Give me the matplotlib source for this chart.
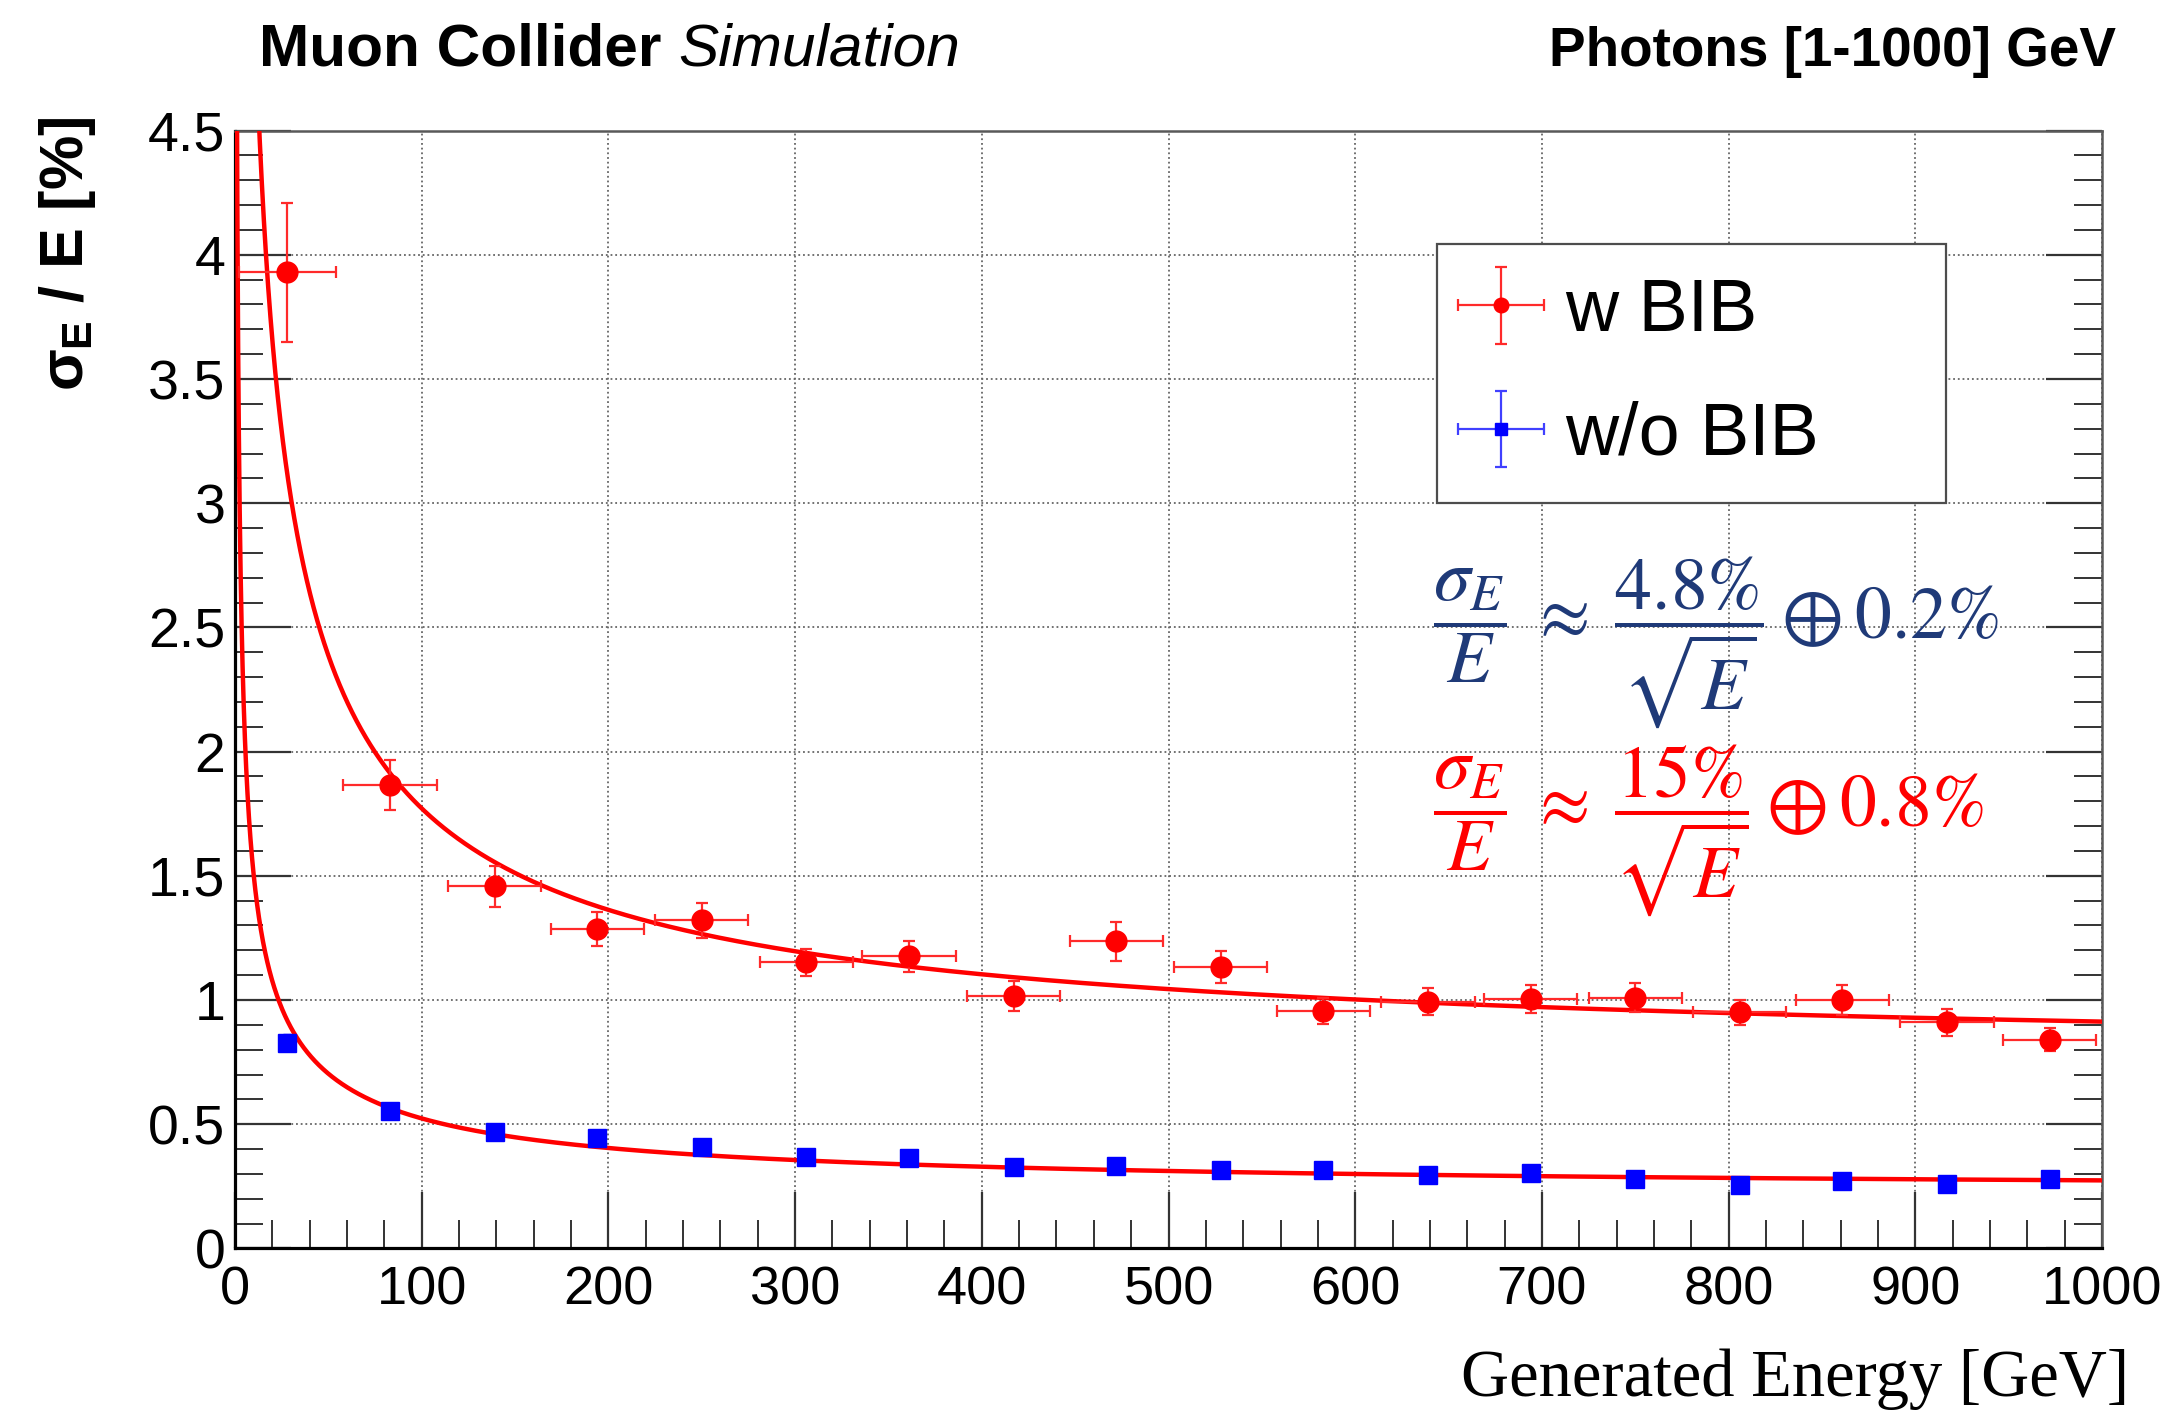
import numpy as np
import matplotlib
matplotlib.use("Agg")
import matplotlib.pyplot as plt
from matplotlib.ticker import MultipleLocator
from matplotlib.container import ErrorbarContainer
from matplotlib.legend_handler import HandlerErrorbar

# generated photon energy, bin centres [GeV]
energy = [28, 83, 139, 194, 250, 306, 361, 417, 472, 528, 583, 639, 694, 750, 806, 861, 917, 972]
energy_err = [26, 25, 25, 25, 25, 25, 25, 25, 25, 25, 25, 25, 25, 25, 25, 25, 25, 25]

# sigma_E / E [%] with BIB
res_bib = [3.93, 1.866, 1.457, 1.286, 1.321, 1.152, 1.176, 1.016, 1.236, 1.133,
           0.956, 0.993, 1.004, 1.009, 0.950, 1.000, 0.910, 0.840]
res_bib_err = [0.28, 0.10, 0.084, 0.07, 0.07, 0.055, 0.063, 0.06, 0.077, 0.063,
               0.051, 0.055, 0.055, 0.058, 0.052, 0.06, 0.055, 0.046]

# sigma_E / E [%] without BIB
res_nobib = [0.828, 0.555, 0.470, 0.444, 0.410, 0.368, 0.364, 0.328, 0.331, 0.314,
             0.314, 0.295, 0.305, 0.278, 0.255, 0.271, 0.260, 0.280]
res_nobib_err = [0.035, 0.02, 0.018, 0.017, 0.016, 0.015, 0.015, 0.014, 0.014, 0.013,
                 0.013, 0.012, 0.012, 0.012, 0.012, 0.011, 0.011, 0.011]

# fitted a/sqrt(E) (+) c parameters, fit range [GeV]
fit_bib = (16.0, 0.76)
fit_nobib = (4.7, 0.23)
fit_range = (1, 1000)

plt.rcParams['font.family'] = ['Liberation Sans', 'DejaVu Sans']
plt.rcParams['mathtext.fontset'] = 'custom'
plt.rcParams['mathtext.rm'] = 'Liberation Sans:bold'
plt.rcParams['mathtext.it'] = 'Liberation Sans:bold'
plt.rcParams['mathtext.bf'] = 'Liberation Sans:bold'

W, H = 2161, 1410
fig = plt.figure(figsize=(W / 100, H / 100), dpi=100)
ax = fig.add_axes([235 / W, 1 - 1248.4 / H, 1867 / W, 1117.8 / H])

# fit curves
e_fit = np.geomspace(fit_range[0], fit_range[1], 3000)
for a, c in (fit_bib, fit_nobib):
    ax.plot(e_fit, np.hypot(a / np.sqrt(e_fit), c), color='#ff0000', lw=3.2, zorder=3)

red = ax.errorbar(energy, res_bib, xerr=energy_err, yerr=res_bib_err, fmt='o',
                  color='#ff0000', ecolor='#ff2a2a', ms=15, elinewidth=1.6,
                  capsize=4, capthick=1.6, zorder=4, label='w BIB')
ax.errorbar(energy, res_nobib, yerr=res_nobib_err, fmt='s', color='#0000ff',
            ms=13, elinewidth=1.2, capsize=3, zorder=4)
# legend entry for the w/o BIB points
blue = ax.errorbar([np.nan], [np.nan], xerr=[1], yerr=[1], fmt='s', color='#0000ff',
                   ecolor='#4040ff', ms=13, elinewidth=1.6, capsize=4, capthick=1.6,
                   label='w/o BIB')

ax.set_xlim(0, 1000)
ax.set_ylim(0, 4.5)
ax.xaxis.set_major_locator(MultipleLocator(100))
ax.xaxis.set_minor_locator(MultipleLocator(20))
ax.yaxis.set_major_locator(MultipleLocator(0.5))
ax.yaxis.set_minor_locator(MultipleLocator(0.1))
ax.yaxis.set_major_formatter(plt.FuncFormatter(lambda v, p: f'{v:g}'))

ax.tick_params(which='both', direction='in', right=True, top=False, color='0.2')
ax.tick_params(which='major', length=40, width=1.6)
ax.tick_params(which='minor', length=20, width=1.4)
ax.tick_params(axis='x', pad=12, labelsize=39)
ax.tick_params(axis='y', pad=7, labelsize=40)

for s in ('left', 'bottom'):
    ax.spines[s].set_linewidth(2.3)
    ax.spines[s].set_color('black')
for s in ('top', 'right'):
    ax.spines[s].set_linewidth(1.8)
    ax.spines[s].set_color('0.35')

ax.grid(True, which='major', linestyle=(0, (1, 1.6)), color='0.4', linewidth=1.3)
ax.set_axisbelow(True)

leg = ax.legend(handles=[red, blue], loc='upper left',
                bbox_to_anchor=(0.6438, 0.6758, 0.2726, 0.2228), mode='expand',
                fontsize=53, handlelength=0.83, handletextpad=0.465, borderpad=0.45,
                labelspacing=0.74, markerscale=0.7, fancybox=False, framealpha=1,
                edgecolor='0.3', borderaxespad=0,
                handler_map={ErrorbarContainer: HandlerErrorbar(xerr_size=0.585, yerr_size=0.52)})
leg.get_frame().set_linewidth(1.6)

# resolution formulas
fig.text(1433 / W, 1 - 642 / H,
         r'$\dfrac{\sigma_E}{E}\;\approx\;\dfrac{4.8\%}{\sqrt{E}}\oplus 0.2\%$',
         fontsize=53, color='#1f3a78', ha='left', va='center', math_fontfamily='stix')
fig.text(1433 / W, 1 - 830 / H,
         r'$\dfrac{\sigma_E}{E}\;\approx\;\dfrac{15\%}{\sqrt{E}}\oplus 0.8\%$',
         fontsize=53, color='#ff0000', ha='left', va='center', math_fontfamily='stix')

# header texts
renderer = fig.canvas.get_renderer()
t1 = fig.text(259 / W, 1 - 66 / H, 'Muon Collider ', fontsize=43.5, fontweight='bold',
              ha='left', va='baseline')
bb = t1.get_window_extent(renderer)
fig.text(bb.x1 / W, 1 - 66 / H, 'Simulation', fontsize=43.5, fontstyle='italic',
         ha='left', va='baseline')
fig.text(2116 / W, 1 - 66 / H, 'Photons [1-1000] GeV', fontsize=39.5, fontweight='bold',
         ha='right', va='baseline')

fig.text(67 / W, 1 - 117 / H, r'$\sigma_{E}$ / E [%]', rotation=90, fontsize=44,
         fontweight='bold', ha='center', va='top')
fig.text(2129 / W, 1 - 1396 / H, 'Generated Energy [GeV]', fontsize=48,
         family='Liberation Serif', ha='right', va='baseline')

fig.savefig('out.png', dpi=100)
